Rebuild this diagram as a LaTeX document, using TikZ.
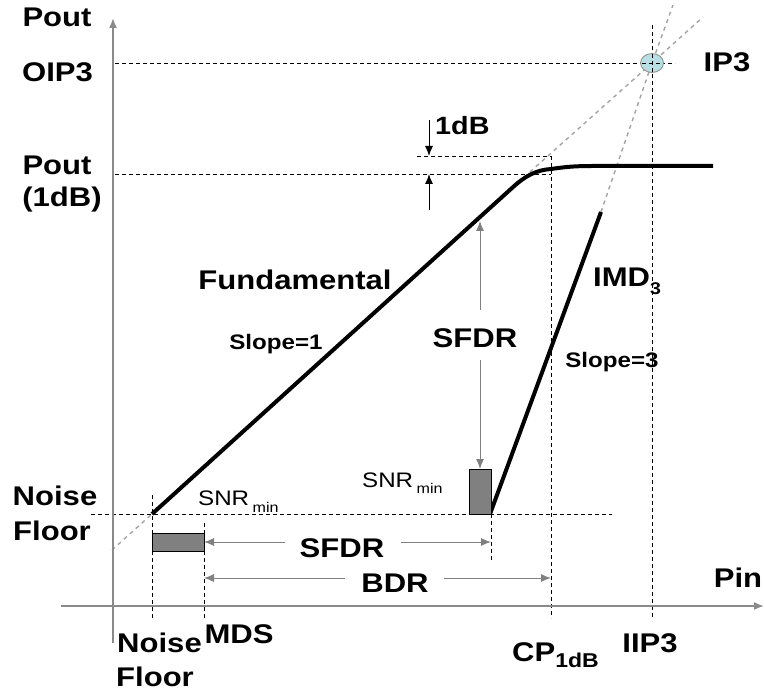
\documentclass[tikz,border=0pt]{standalone}
\usepackage{fontspec}
\setmainfont{Liberation Sans}[FakeStretch=1.15]
\usetikzlibrary{arrows.meta,shapes.geometric}
\definecolor{axisgray}{HTML}{8A8A8A}
\definecolor{extgray}{HTML}{A4A4A4}
\definecolor{boxgray}{HTML}{808080}
\definecolor{ipfill}{HTML}{B8E0E4}
\tikzset{
  lbl/.style={font=\bfseries\fontsize{27}{27}\selectfont, anchor=base, inner sep=0pt},
  small/.style={font=\bfseries\fontsize{21}{21}\selectfont, anchor=base, inner sep=0pt},
  mid/.style={font=\bfseries\fontsize{25}{25}\selectfont, anchor=base, inner sep=0pt},
  guide/.style={black, line width=0.9pt, dash pattern=on 4pt off 3pt},
  ext/.style={extgray, line width=1.4pt, dash pattern=on 4pt off 4pt},
  curve/.style={black, line width=4pt},
  axis/.style={axisgray, line width=1.6pt},
  dim/.style={gray, line width=1pt, -{Latex[length=10pt,width=8pt]}},
  dimk/.style={black, line width=1pt, -{Latex[length=10pt,width=8pt]}},
  bar/.style={draw=black, line width=0.8pt, fill=boxgray}
}
\begin{document}
\begin{tikzpicture}[x=1pt,y=-1pt]
\useasboundingbox (0,0) rectangle (765,692);
% key coordinates
\coordinate (nf) at (152,514);
\coordinate (knee) at (512,188);
\coordinate (ip3) at (652,63);
\coordinate (imdlo) at (490,514);
\coordinate (imdhi) at (601,212);
% guide lines
\draw[guide] (115,63) -- (675,63);
\draw[guide] (115,174) -- (551,174);
\draw[guide] (417,156) -- (551,156);
\draw[guide] (652,25) -- (652,618);
\draw[guide] (551,156) -- (551,618);
\draw[guide] (91,514) -- (612,514);
\draw[guide] (152,495) -- (152,618);
\draw[guide] (204,523) -- (204,618);
\draw[guide] (491,514) -- (491,561);
% extension lines
\draw[ext] (112,550) -- (nf);
\draw[ext] (knee) -- (ip3) -- (703,17);
\draw[ext] (imdhi) -- (ip3) -- (673,5);
% axes
\draw[axis, -{Latex[length=10pt,width=8pt]}] (113,643) -- (113,18);
\draw[axis, -{Latex[length=10pt,width=8pt]}] (61,606) -- (764,606);
% curves
\draw[curve, line join=round] (nf) -- (knee) .. controls (525,176) and (536,170) .. (551,169) .. controls (565,167) and (574,166) .. (592,166) -- (713,166);
\draw[curve] (imdlo) -- (imdhi);
% IP3 marker
\node[draw=axisgray, line width=0.8pt, fill=ipfill, ellipse, minimum width=23pt, minimum height=19pt, inner sep=0pt] (ipm) at (ip3) {};
\draw[guide] (652,54) -- (652,73);
\draw[guide] (642,63) -- (663,63);
% boxes
\draw[bar] (152,533) rectangle (204,551);
\draw[bar] (469,469) rectangle (491,514);
% 1dB arrows
\draw[dimk] (429,120) -- (429,156);
\draw[dimk] (429,210) -- (429,174);
% SFDR vertical arrows
\draw[dim] (480,310) -- (480,221);
\draw[dim] (480,360) -- (480,469);
% SFDR / BDR horizontal arrows
\draw[dim] (285,542) -- (204,542);
\draw[dim] (401,542) -- (491,542);
\draw[dim] (345,578) -- (204,578);
\draw[dim] (444,578) -- (551,578);
% labels
\node[lbl] (tPout) at (57,27) {Pout};
\node[lbl] (tOIP) at (57.5,82) {OIP3};
\node[lbl] (tPo) at (57,175) {Pout};
\node[lbl] (tdb) at (62,207) {(1dB)};
\node[lbl] (tN1) at (55,505) {Noise};
\node[lbl] (tF1) at (52,540) {Floor};
\node[lbl] (tN2) at (159.5,652) {Noise};
\node[lbl] (tF2) at (155,686) {Floor};
\node[lbl] (tMDS) at (239,643) {MDS};
\node[lbl, anchor=base west] (tCP) at (512,661) {CP\raisebox{-6pt}{\fontsize{20}{20}\selectfont 1dB}};
\node[lbl] (tIIP) at (650,652) {IIP3};
\node[lbl] (tPin) at (738,587) {Pin};
\node[lbl] (tIP) at (727,72) {IP3};
\node[lbl, anchor=base west] (tIMD) at (593,287) {IMD\raisebox{-8pt}{\fontsize{17}{17}\selectfont 3}};
\node[small] (tS3) at (612,367) {Slope=3};
\node[small] (tS1) at (276,349) {Slope=1};
\node[lbl] (tSFv) at (475,347) {SFDR};
\node[lbl] (tSFh) at (342,557) {SFDR};
\node[lbl] (tBDR) at (395,592) {BDR};
\node[lbl] (tFund) at (295,290) {Fundamental};
\node[mid, anchor=base west] (t1dB) at (435,135) {1dB};
\node[small, anchor=base west, font=\fontsize{21}{21}\selectfont] (tSNR1) at (198,505) {SNR\,\raisebox{-7pt}{\fontsize{14}{14}\selectfont min}};
\node[small, anchor=base west, font=\fontsize{21}{21}\selectfont] (tSNR2) at (362,487) {SNR\,\raisebox{-6pt}{\fontsize{14}{14}\selectfont min}};
\end{tikzpicture}
\end{document}
